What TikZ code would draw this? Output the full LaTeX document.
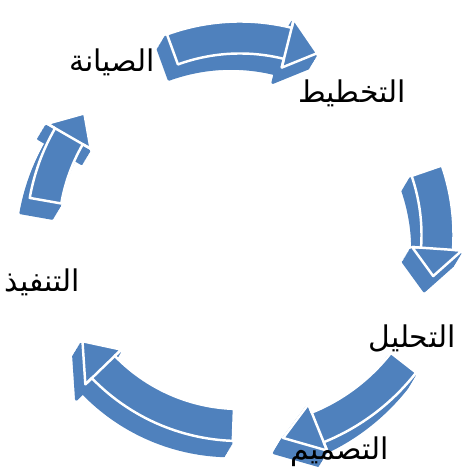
\documentclass[tikz,border=0pt]{standalone}
\usepackage{fontspec}
\newfontfamily\arabicfont[Script=Arabic]{DejaVu Sans}
\TeXXeTstate=1
\definecolor{cycleblue}{RGB}{79,129,189}

% outline of one curved arrow: start angle, neck angle, tip angle, radius
\newcommand{\cyclearc}[4]{%
  (#1:{#4+0.32}) arc[start angle=#1, end angle=#2, radius={#4+0.32}]
  -- (#2:{#4+0.5}) -- (#3:{#4}) -- (#2:{#4-0.5})
  -- (#2:{#4-0.32}) arc[start angle=#2, end angle=#1, radius={#4-0.32}] -- cycle}

\tikzset{
  arrowside/.style={fill=cycleblue, draw=cycleblue, line width=1.5pt, line join=round},
  arrowface/.style={fill=cycleblue, draw=white, line width=1.4pt, line join=round},
  stagelabel/.style={font=\arabicfont\fontsize{17}{20}\selectfont, text=black}
}

\begin{document}
\begin{tikzpicture}
    \useasboundingbox (0,0) rectangle (9.28,9.5);

    % Centre of the cycle
    \coordinate (O) at (4.8,4.8);

    % Draw the five arrows (side first, then the top face)
    \begin{scope}[shift={(O)}]
      \foreach \a/\b/\c/\r in {110/76/67/3.95, 19/-4/-12/3.95, -38/-68/-78/4.15, -92/-136/-146/3.8, 170/150/142/3.95} {
        \foreach \k in {1,0.9,...,0.1}
          \filldraw[arrowside, shift={({-0.18*\k},{-0.3*\k})}] \cyclearc{\a}{\b}{\c}{\r};
        \filldraw[arrowface] \cyclearc{\a}{\b}{\c}{\r};
        \draw[white, line width=1.4pt] (\b:{\r-0.5}) -- (\b:{\r+0.5}); % neck break
      }
    \end{scope}

    % Place the labels
    \node[stagelabel] (plan) at (7.04,7.64) {\beginR التخطيط\endR};
    \node[stagelabel] (analysis) at (8.24,2.74) {\beginR التحليل\endR};
    \node[stagelabel] (design) at (6.8,0.46) {\beginR التصميم\endR};
    \node[stagelabel] (build) at (0.84,3.86) {\beginR التنفيذ\endR};
    \node[stagelabel] (upkeep) at (2.24,8.26) {\beginR الصيانة\endR};
\end{tikzpicture}
\end{document}
